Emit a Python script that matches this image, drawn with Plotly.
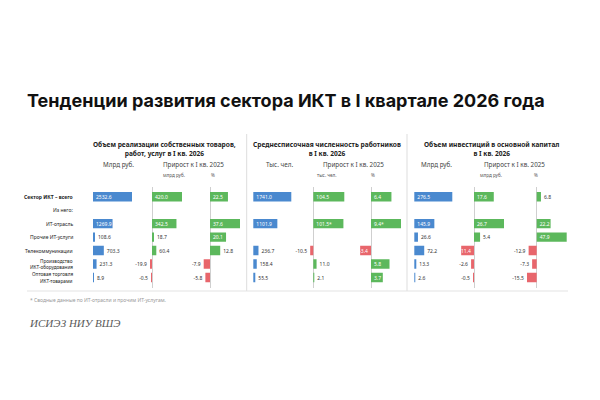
import plotly.graph_objects as go

# ---------------- data ----------------
rows = ["Сектор ИКТ – всего", "Из него:", "ИТ-отрасль", "Прочие ИТ-услуги",
        "Телекоммуникации", "Производство<br>ИКТ-оборудования",
        "Оптовая торговля<br>ИКТ-товарами"]

sales_bn = [2532.6, None, 1269.9, 108.6, 703.3, 231.3, 8.9]
sales_gr_bn = [420.0, None, 342.5, 18.7, 60.4, -19.9, -0.5]
sales_gr_pct = [22.5, None, 37.6, 20.1, 12.8, -7.9, -5.8]

staff_k = [1741.0, None, 1101.9, None, 236.7, 158.4, 55.5]
staff_gr_k = [104.5, None, 101.5, None, -10.5, 11.0, 2.1]
staff_gr_pct = [6.4, None, 9.4, None, -3.4, 5.8, 3.7]
staff_note = ["", "", "*", "", "", "", ""]

inv_bn = [276.5, None, 145.9, 26.6, 72.2, 13.3, 2.6]
inv_gr_bn = [17.6, None, 26.7, 5.4, -11.4, -2.6, -0.5]
inv_gr_pct = [6.8, None, 22.2, 47.9, -12.9, -7.3, -15.5]

no_note = [""] * len(rows)

# ---------------- styling ----------------
W, H = 600, 400
BLUE, GREEN, RED = "#4A89CF", "#5CB85C", "#E8666C"


def px(x):
    return x / W


def py(y):
    return 1 - y / H


# (values, notes, zero pixel, pixel length of largest bar, colour mode)
cols = [
    (sales_bn, no_note, 93, 39, "blue"),
    (sales_gr_bn, no_note, 152, 30, "sign"),
    (sales_gr_pct, no_note, 210, 30, "sign"),
    (staff_k, no_note, 253.3, 38, "blue"),
    (staff_gr_k, staff_note, 313.3, 31, "sign"),
    (staff_gr_pct, staff_note, 371, 30, "sign"),
    (inv_bn, no_note, 414.3, 38, "blue"),
    (inv_gr_bn, no_note, 474, 30, "sign"),
    (inv_gr_pct, no_note, 536.7, 30, "sign"),
]

fig = go.Figure()
layout_axes = {}

for i, (vals, notes, z, L, mode) in enumerate(cols):
    idx = "" if i == 0 else str(i + 1)
    xa = "x" + idx
    M = max(abs(v) for v in vals if v is not None)
    a, b = max(z - 28, 0), min(z + 45, W)
    if mode == "blue":
        colors = [BLUE] * len(vals)
    else:
        colors = [GREEN if (v is not None and v >= 0) else RED for v in vals]
    text = [("" if v is None else f"{v:.1f}{n}") for v, n in zip(vals, notes)]
    # inside the bar when the bar is long enough for its label
    pos = []
    for v, t in zip(vals, text):
        if v is None:
            pos.append("none")
        else:
            bar_px = abs(v) / M * L
            pos.append("inside" if bar_px > len(t) * 2.0 + 2.5 else "outside")
    fig.add_trace(go.Bar(
        x=vals, y=rows, orientation="h", xaxis=xa, yaxis="y",
        marker=dict(color=colors, line=dict(width=0)),
        text=text, textposition=pos, insidetextanchor="start",
        textfont=dict(size=5, family="Noto Sans"),
        insidetextfont=dict(color="white", size=5, family="Noto Sans"),
        outsidetextfont=dict(color="#333333", size=5, family="Noto Sans"),
        cliponaxis=False, hoverinfo="skip", showlegend=False,
    ))
    layout_axes["xaxis" + idx] = dict(
        domain=[px(a), px(b)],
        range=[(a - z) / L * M, (b - z) / L * M],
        anchor="y", visible=True, showgrid=False, showticklabels=False,
        ticks="", showline=False,
        zeroline=(mode != "blue"), zerolinecolor="#cfcfcf", zerolinewidth=1,
        fixedrange=True,
    )

fig.update_layout(**layout_axes)
fig.update_layout(
    yaxis=dict(domain=[py(287.6), py(186.6)], range=[6.75, -0.75],
               type="category", categoryorder="array", categoryarray=rows,
               visible=False, anchor="x"),
    width=W, height=H, margin=dict(l=0, r=0, t=0, b=0),
    paper_bgcolor="white", plot_bgcolor="rgba(0,0,0,0)",
    bargap=0.3, showlegend=False,
    uniformtext=dict(minsize=5, mode="show"),
)

ann = []


def note(x, y, text, size, color="#333333", bold=False, xanchor="center",
         family="Noto Sans", italic=False, align="center"):
    ann.append(dict(
        x=px(x), y=py(y), xref="paper", yref="paper", text=text,
        showarrow=False, xanchor=xanchor, yanchor="middle", align=align,
        font=dict(size=size, color=color, family=family,
                  weight=700 if bold else 400,
                  style="italic" if italic else "normal"),
    ))


# title
note(25, 101, "Тенденции развития сектора ИКТ в I квартале 2026 года", 18,
     color="#111111", bold=True, xanchor="left", family="Inter")

# panel headers
note(164.5, 148.5, "Объем реализации собственных товаров,<br>работ, услуг в I кв. 2026", 6.6,
     color="#222222", bold=True)
note(326.5, 148.5, "Среднесписочная численность работников<br>в I кв. 2026", 6.6,
     color="#222222", bold=True)
note(491, 148.5, "Объем инвестиций в основной капитал<br>в I кв. 2026", 6.6,
     color="#222222", bold=True)

# sub headers
for (c1, t1, c2, c3, t3, c4) in [
    (118, "Млрд руб.", 193, 173.5, "млрд руб.", 213.3),
    (279, "Тыс. чел.", 353, 326.7, "тыс. чел.", 372.7),
    (436, "Млрд руб.", 514.7, 491, "млрд руб.", 536),
]:
    note(c1, 164.5, t1, 6.3, color="#444444")
    note(c2, 164.5, "Прирост к I кв. 2025", 6.3, color="#444444")
    note(c3, 174.5, t3, 4.6, color="#555555")
    note(c4, 174.5, "%", 4.6, color="#555555")

# row labels (multi-line labels set line by line, tightly spaced)
for i, r in enumerate(rows):
    lines = r.split("<br>")
    n = len(lines)
    for k, line in enumerate(lines):
        ann.append(dict(
            x=px(75), y=r, xref="paper", yref="y", text=line, showarrow=False,
            xanchor="right", yanchor="middle", align="right",
            yshift=((n - 1) / 2 - k) * 6.2,
            font=dict(size=5 if n == 1 else 4.7, color="#222222",
                      family="Noto Sans", weight=700 if i == 0 else 400),
        ))

# footnote and source
note(28, 300, "* Сводные данные по ИТ-отрасли и прочим ИТ-услугам.", 5,
     color="#9a9a9a", xanchor="left")
note(27, 322.5, "ИСИЭЗ НИУ ВШЭ", 11, color="#5a5a5a", xanchor="left",
     family="Liberation Serif", italic=True)

fig.update_layout(annotations=ann)

# separators
shapes = []
for xs in (246.7, 407):
    shapes.append(dict(type="line", xref="paper", yref="paper",
                       x0=px(xs), x1=px(xs), y0=py(134), y1=py(291),
                       line=dict(color="#dddddd", width=1)))
shapes.append(dict(type="line", xref="paper", yref="paper",
                   x0=px(27), x1=px(568), y0=py(291), y1=py(291),
                   line=dict(color="#e3e3e3", width=1)))
fig.update_layout(shapes=shapes)

fig.write_html("out.html")
